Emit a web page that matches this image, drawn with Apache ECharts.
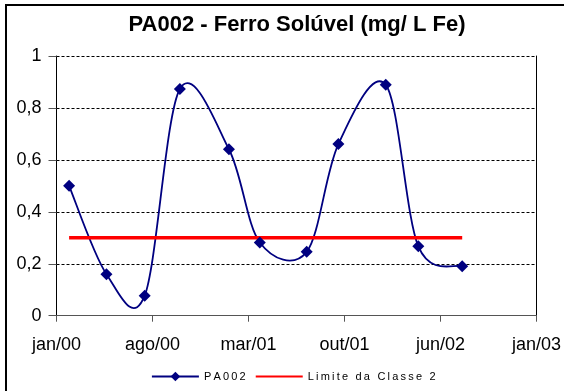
<!DOCTYPE html>
<html>
<head>
<meta charset="utf-8">
<script src="https://cdn.jsdelivr.net/npm/echarts@6/dist/echarts.min.js"></script>
<style>
  html, body { margin: 0; padding: 0; background: #fff; }
  #chart { width: 564px; height: 391px; }
</style>
</head>
<body>
<div id="chart"></div>
<script>
// dados
var sampleDates = ["2000-01-30", "2000-04-25", "2000-07-22", "2000-10-11", "2001-02-01",
  "2001-04-13", "2001-07-30", "2001-10-11", "2002-01-28", "2002-04-13", "2002-07-23"];
var pa002Values = [0.5, 0.16, 0.077, 0.873, 0.641, 0.282, 0.246, 0.661, 0.889, 0.267, 0.19];
var limitDates = ["2000-01-30", "2002-07-23"];
var limitValues = [0.3, 0.3];
var tickLabels = ["jan/00", "ago/00", "mar/01", "out/01", "jun/02", "jan/03"];
var seriesNames = ["PA002", "Limite da Classe 2"];

// eixo x em dias desde jan/00 (passo de 221 dias, como no Excel)
var DAY0 = Date.UTC(2000, 0, 1);
var STEP = 221;
function toDays(s) {
  var p = s.split("-");
  return (Date.UTC(+p[0], +p[1] - 1, +p[2]) - DAY0) / 86400000;
}

var pa002Data = sampleDates.map(function (d, i) { return [toDays(d), pa002Values[i]]; });
var NAVY = "#000080";

// curva suavizada tipo Excel (Catmull-Rom), um segmento por ponto
function renderSmooth(params, api) {
  var i = params.dataIndex;
  var n = pa002Data.length;
  if (i >= n - 1) return null;
  var p = function (k) {
    k = Math.max(0, Math.min(n - 1, k));
    return api.coord(pa002Data[k]);
  };
  var p0 = p(i - 1), p1 = p(i), p2 = p(i + 1), p3 = p(i + 2);
  return {
    type: "bezierCurve",
    shape: {
      x1: p1[0], y1: p1[1],
      x2: p2[0], y2: p2[1],
      cpx1: p1[0] + (p2[0] - p0[0]) / 6, cpy1: p1[1] + (p2[1] - p0[1]) / 6,
      cpx2: p2[0] - (p3[0] - p1[0]) / 6, cpy2: p2[1] - (p3[1] - p1[1]) / 6
    },
    style: { stroke: NAVY, lineWidth: 1.8, fill: null }
  };
}

var font = "Liberation Sans, Arial, sans-serif";
var chart = echarts.init(document.getElementById("chart"));

var option = {
  backgroundColor: "#fff",
  animation: false,
  title: {
    text: "PA002 - Ferro Solúvel (mg/ L Fe)",
    left: 292,
    top: 9,
    textAlign: "center",
    textStyle: { fontFamily: font, fontSize: 22, fontWeight: "bold", color: "#000" }
  },
  graphic: [{
    type: "rect",
    shape: { x: 6, y: 5, width: 620, height: 420 },
    style: { fill: null, stroke: "#000", lineWidth: 2 },
    silent: true
  }],
  grid: { left: 56.5, right: 23, top: 56, bottom: 75.3, containLabel: false },
  legend: {
    left: 146,
    top: 366,
    itemWidth: 47,
    itemHeight: 12,
    itemGap: 9,
    textStyle: { fontFamily: font, fontSize: 11, color: "#000" },
    formatter: function (name) { return name.split("").join("\u2009"); },
    data: [
      { name: seriesNames[0], lineStyle: { color: NAVY, width: 1.8, opacity: 1 } },
      { name: seriesNames[1], itemStyle: { opacity: 0 } }
    ]
  },
  xAxis: {
    type: "value",
    min: 0,
    max: STEP * 5,
    interval: STEP,
    axisLine: { lineStyle: { color: "#555", width: 1 } },
    axisTick: { show: true, length: 6, lineStyle: { color: "#555" } },
    axisLabel: {
      fontFamily: font, fontSize: 18, color: "#000", margin: 20,
      formatter: function (v) { return tickLabels[Math.round(v / STEP)]; }
    },
    splitLine: { show: false }
  },
  yAxis: [{
    type: "value",
    min: 0,
    max: 1,
    interval: 0.2,
    axisLine: { show: true, lineStyle: { color: "#000", width: 1 } },
    axisTick: { show: true, length: 8, lineStyle: { color: "#555" } },
    axisLabel: {
      fontFamily: font, fontSize: 18, color: "#000", margin: 15,
      formatter: function (v) { return String(+v.toFixed(1)).replace(".", ","); }
    },
    splitLine: { lineStyle: { color: "#000", type: [3, 2], width: 1 } }
  }, {
    type: "value",
    position: "right",
    min: 0,
    max: 1,
    axisLine: { show: true, lineStyle: { color: "#000", width: 1 } },
    axisTick: { show: false },
    axisLabel: { show: false },
    splitLine: { show: false }
  }],
  series: [{
    name: seriesNames[0],
    type: "line",
    symbol: "diamond",
    symbolSize: 12,
    color: NAVY,
    lineStyle: { color: NAVY, width: 1.8, opacity: 0 },
    itemStyle: { color: NAVY },
    z: 3,
    data: pa002Data
  }, {
    name: seriesNames[0],
    type: "custom",
    renderItem: renderSmooth,
    encode: { x: 0, y: 1 },
    z: 2,
    data: pa002Data
  }, {
    name: seriesNames[1],
    type: "line",
    symbol: "none",
    color: "#ff0000",
    lineStyle: { color: "#ff0000", width: 3.5 },
    z: 2,
    data: limitDates.map(function (d, i) { return [toDays(d), limitValues[i]]; })
  }]
};

chart.setOption(option);
</script>
</body>
</html>
